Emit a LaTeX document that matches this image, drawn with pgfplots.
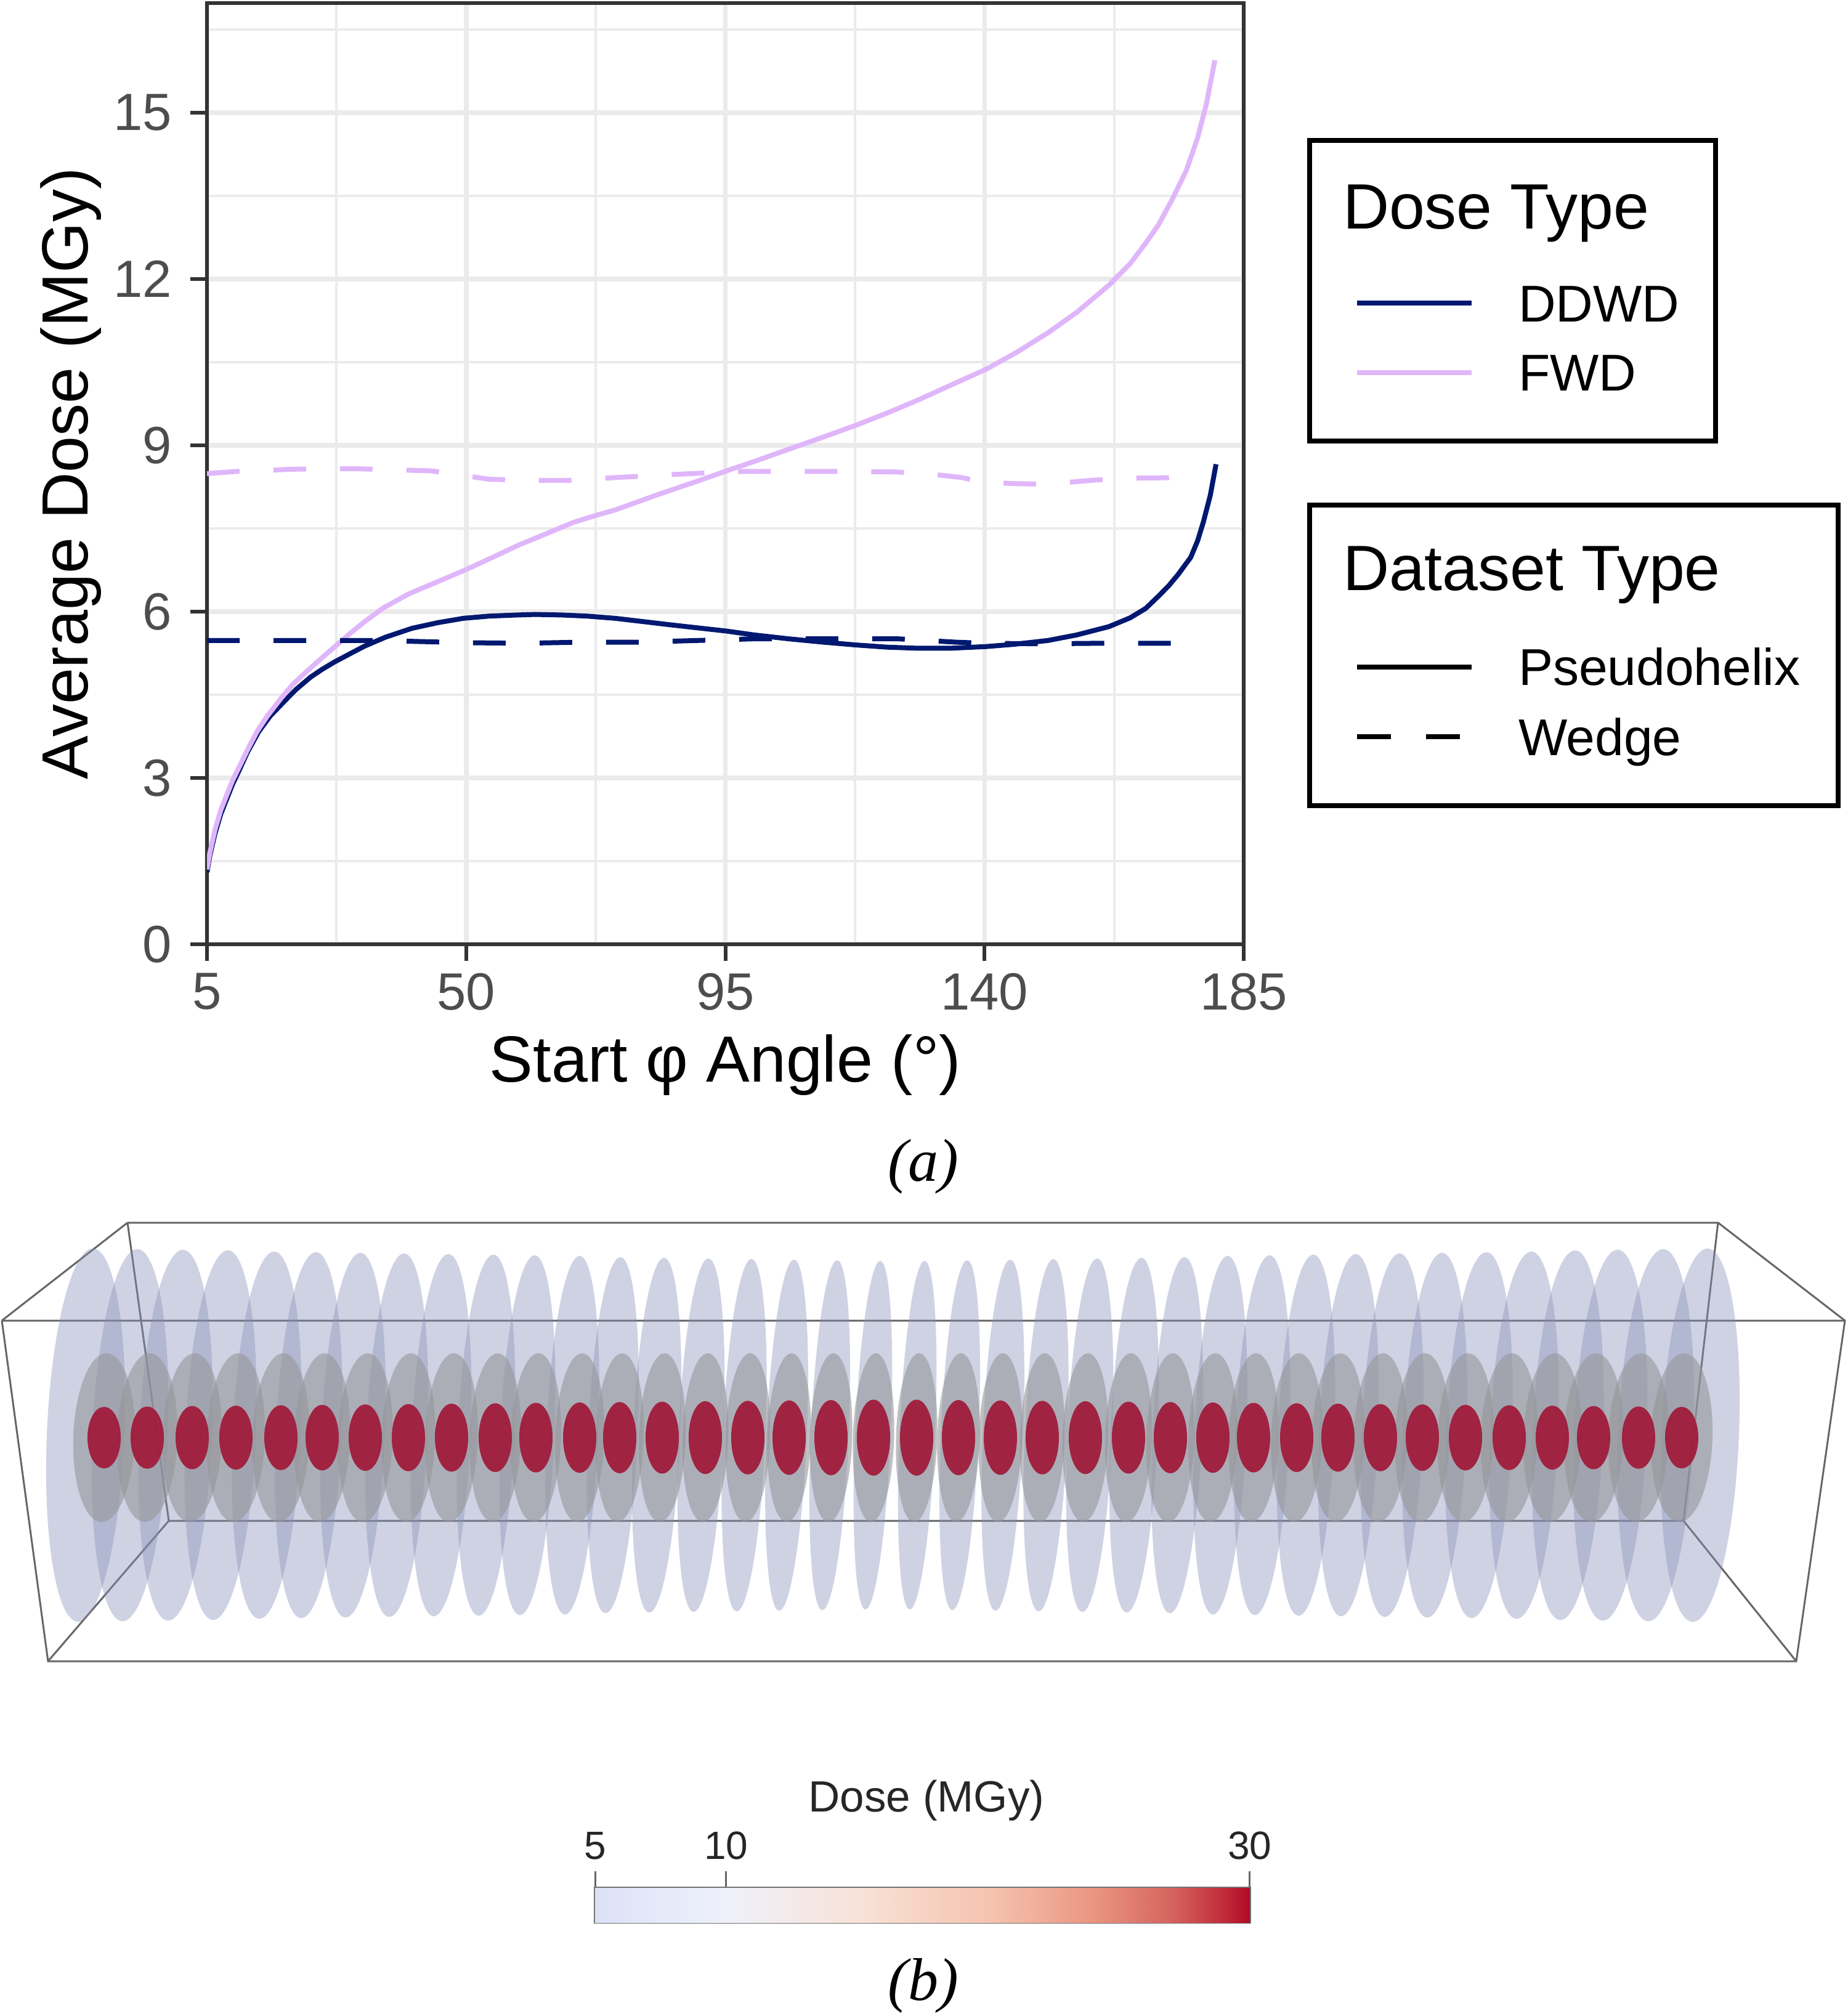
\documentclass[border=0pt]{standalone}
\usepackage{fontspec}
\setmainfont{Liberation Sans}
\newfontfamily\timesfont{Liberation Serif}
\usepackage{pgfplots}
\usepackage{pgfplotstable}
\pgfplotsset{compat=1.18}

\definecolor{ddwd}{RGB}{0,24,112}
\definecolor{fwd}{RGB}{224,182,250}
\definecolor{gridc}{RGB}{235,235,235}
\definecolor{framec}{RGB}{51,51,51}
\definecolor{tickl}{RGB}{77,77,77}
\definecolor{lavc}{RGB}{135,142,184}
\definecolor{grayc}{RGB}{150,150,154}
\definecolor{redc}{RGB}{160,28,60}

\pgfdeclareplotmark{disk}{%
  \pgfpathellipse{\pgfpointorigin}{\pgfpoint{\mw*1pt}{0pt}}{\pgfpoint{\msk*1pt}{\mh*1pt}}%
  \pgfusepathqfill}

\pgfplotstableread{
x lx lw lh gw rh
169 139 6.30 30.3 5.00 5.00
239 211 6.11 30.2 4.91 5.06
312 285 5.92 30.1 4.82 5.13
383 358 5.73 30.0 4.72 5.19
456 433 5.54 29.8 4.63 5.26
523 501 5.36 29.7 4.54 5.32
593 573 5.17 29.6 4.45 5.39
663 644 4.98 29.5 4.36 5.45
733 716 4.79 29.4 4.27 5.52
804 789 4.60 29.3 4.17 5.58
870 856 4.41 29.2 4.08 5.65
941 929 4.22 29.1 3.99 5.71
1006 995 4.03 28.9 3.90 5.78
1075 1066 3.84 28.8 3.80 5.84
1145 1138 3.65 28.7 3.71 5.91
1214 1208 3.46 28.6 3.62 5.97
1281 1277 3.27 28.5 3.53 6.04
1349 1347 3.08 28.4 3.44 6.10
1418 1417 2.89 28.3 3.35 6.17
1488 1489 2.89 28.3 3.35 6.17
1556 1558 3.08 28.4 3.44 6.10
1624 1628 3.27 28.5 3.53 6.04
1692 1698 3.46 28.6 3.62 5.97
1762 1769 3.65 28.7 3.71 5.91
1832 1841 3.84 28.8 3.80 5.84
1900 1911 4.03 28.9 3.90 5.78
1969 1981 4.22 29.1 3.99 5.71
2035 2049 4.41 29.2 4.08 5.65
2105 2120 4.60 29.3 4.17 5.58
2172 2189 4.79 29.4 4.27 5.52
2241 2260 4.98 29.5 4.36 5.45
2309 2329 5.17 29.6 4.45 5.39
2379 2401 5.36 29.7 4.54 5.32
2450 2474 5.54 29.8 4.63 5.26
2520 2545 5.73 30.0 4.72 5.19
2587 2614 5.92 30.1 4.82 5.13
2660 2688 6.11 30.2 4.91 5.06
2730 2760 6.30 30.3 5.00 5.00
}\disks

\pgfplotstableread{
a v
5 1.35
5.5 1.65
6.4 2.07
7.4 2.42
8.5 2.71
9.5 2.97
10.6 3.20
12 3.50
13.7 3.84
15.5 4.12
17.8 4.43
20 4.70
22.5 4.94
25 5.17
27.1 5.36
30 5.62
32.5 5.83
35.5 6.06
40 6.32
44.8 6.53
50 6.76
55 7.00
59.3 7.21
64 7.41
68.6 7.61
72 7.72
76 7.84
80 7.99
83.5 8.12
90 8.35
95.2 8.54
100 8.71
106 8.93
112 9.15
117.6 9.36
123 9.58
128.5 9.82
134 10.08
140.2 10.37
145.6 10.68
151 11.03
156 11.40
161.6 11.89
165.3 12.28
168 12.65
170.2 12.98
172.5 13.42
175 13.95
177 14.55
178.5 15.15
180 15.95
}\fwdpseudo

\pgfplotstableread{
a v
5 1.30
5.5 1.60
6.4 2.00
7.4 2.35
8.5 2.64
9.5 2.90
10.6 3.14
12 3.46
14 3.84
16 4.12
18.4 4.38
20.5 4.60
23 4.82
25 4.96
27.1 5.09
30 5.25
32.4 5.38
36 5.54
40.6 5.70
45 5.80
49.5 5.88
54 5.92
58.8 5.94
62 5.95
66.6 5.94
71 5.92
75.9 5.88
80 5.83
85.7 5.76
90 5.71
95.2 5.65
100 5.58
106 5.51
112 5.45
117.6 5.40
123 5.36
128.5 5.34
134 5.34
140.2 5.37
145 5.41
151 5.48
156 5.58
161.6 5.73
165.3 5.89
168 6.06
170.2 6.28
172 6.47
173.6 6.67
175.8 6.98
177 7.28
178 7.62
179.2 8.10
180.2 8.66
}\ddwdpseudo

\pgfplotstableread{
a v
5 8.49
10 8.53
20 8.57
30.5 8.58
44 8.54
54 8.39
60 8.37
68 8.37
76 8.42
85 8.47
91 8.50
98 8.53
108 8.53
117 8.53
124.8 8.52
130 8.49
136 8.42
139.7 8.34
145 8.31
151 8.30
158.5 8.37
166 8.41
175.4 8.42
}\fwdwedge

\pgfplotstableread{
a v
5 5.48
20 5.48
35 5.48
50 5.44
60 5.43
70 5.45
80 5.45
90 5.48
100 5.51
117 5.51
125 5.51
135 5.45
140 5.43
150 5.42
160 5.43
175.4 5.43
}\ddwdwedge

\begin{document}
\begin{tikzpicture}
\path[use as bounding box] (0pt,0pt) rectangle (300pt,327.3pt);

% ---------- (b) rendering ----------
\begin{axis}[at={(0pt,0pt)}, anchor=south west, scale only axis,
  width=300pt, height=327.3pt,
  xmin=0, xmax=3000, ymin=0, ymax=3273, y dir=reverse,
  hide axis, clip=false,
  point meta min=0, point meta max=3000]
\addplot[scatter, only marks, mark=disk, point meta=\thisrow{x},
  scatter/use mapped color={draw=none, fill=lavc},
  mark options={fill opacity=0.40},
  visualization depends on={\thisrow{lw}\as\mw},
  visualization depends on={\thisrow{lh}\as\mh},
  visualization depends on={value 1.2\as\msk}]
  table[x=lx, y expr=2330] {\disks};
\addplot[scatter, only marks, mark=disk, point meta=\thisrow{x},
  scatter/use mapped color={draw=none, fill=grayc},
  mark options={fill opacity=0.6},
  visualization depends on={\thisrow{gw}\as\mw},
  visualization depends on={value 13.7\as\mh},
  visualization depends on={value 0.4\as\msk}]
  table[x=x, y expr=2334] {\disks};
\addplot[scatter, only marks, mark=disk, point meta=\thisrow{x},
  scatter/use mapped color={draw=none, fill=redc},
  mark options={fill opacity=0.95},
  visualization depends on={value 2.7\as\mw},
  visualization depends on={\thisrow{rh}\as\mh},
  visualization depends on={value 0\as\msk}]
  table[x=x, y expr=2334] {\disks};
\addplot[no marks, draw=black!60, line width=0.3pt] coordinates {(207,1985) (2789,1985) (2733,2469) (274,2469) (207,1985)};
\addplot[no marks, draw=black!60, line width=0.3pt] coordinates {(3,2144) (2995,2144) (2916,2697) (78,2697) (3,2144)};
\addplot[no marks, draw=black!60, line width=0.3pt] coordinates {(3,2144) (207,1985)};
\addplot[no marks, draw=black!60, line width=0.3pt] coordinates {(2995,2144) (2789,1985)};
\addplot[no marks, draw=black!60, line width=0.3pt] coordinates {(78,2697) (274,2469)};
\addplot[no marks, draw=black!60, line width=0.3pt] coordinates {(2916,2697) (2733,2469)};
\end{axis}

% ---------- colour bar ----------
\begin{axis}[at={(96.6pt,15.2pt)}, anchor=south west, scale only axis,
  width=106.3pt, height=5.6pt,
  xmin=5, xmax=30, ymin=0, ymax=1,
  axis line style={black!55, line width=0.4pt},
  xtick={5,10,30}, ytick=\empty,
  xtick pos=right, xticklabel pos=right,
  tick align=outside, major tick length=2.7pt,
  tick style={black!60, line width=0.3pt},
  xticklabel style={font=\fontsize{6.4}{7.5}\selectfont, text=black!85, inner sep=0.6pt, yshift=1.1pt},
  /pgf/number format/assume math mode=true,
  colormap={dosemap}{rgb255(0cm)=(220,225,247) rgb255(5cm)=(238,241,250) rgb255(10cm)=(248,226,216) rgb255(15cm)=(245,196,176) rgb255(19cm)=(234,150,130) rgb255(22cm)=(214,100,95) rgb255(24cm)=(192,45,58) rgb255(25cm)=(178,8,38)},
  point meta min=5, point meta max=30]
\addplot[surf, shader=interp, point meta=x, mesh/cols=6] coordinates {
(5,0) (10,0) (15,0) (20,0) (25,0) (30,0)
(5,1) (10,1) (15,1) (20,1) (25,1) (30,1)};
\end{axis}
\node[font=\fontsize{7.1}{8}\selectfont, text=black!85] at (150.4pt,35.0pt) {Dose (MGy)};

% ---------- (a) chart ----------
\begin{axis}[at={(33.6pt,174.0pt)}, anchor=south west, scale only axis,
  width=168.3pt, height=152.8pt,
  xmin=5, xmax=185, ymin=0, ymax=16.98,
  xtick={5,50,95,140,185}, ytick={0,3,6,9,12,15},
  minor xtick={27.5,72.5,117.5,162.5},
  minor ytick={1.5,4.5,7.5,10.5,13.5,16.5},
  grid=both,
  major grid style={gridc, line width=0.75pt},
  minor grid style={gridc, line width=0.42pt},
  axis line style={framec, line width=0.55pt},
  tick align=outside, major tick length=2.7pt, minor tick length=0pt,
  tick style={framec, line width=0.6pt},
  xtick pos=left, ytick pos=left,
  ticklabel style={font=\fontsize{8.5}{10}\selectfont, text=tickl},
  yticklabel style={inner sep=0pt, xshift=-2.8pt},
  xticklabel style={inner sep=0pt, yshift=-1.8pt},
  /pgf/number format/assume math mode=true,
  xlabel={Start φ Angle (°)}, ylabel={Average Dose (MGy)},
  label style={font=\fontsize{10.6}{12}\selectfont},
  xlabel style={at={(axis description cs:0.5,-0.1283)}, anchor=center},
  ylabel style={at={(axis description cs:-0.1313,0.5)}, anchor=center}]
\addplot[ddwd, line width=0.8pt, no marks] table[x=a, y=v] {\ddwdpseudo};
\addplot[fwd, line width=0.8pt, no marks] table[x=a, y=v] {\fwdpseudo};
\addplot[fwd, line width=0.8pt, no marks, dash pattern=on 5.3pt off 5.5pt] table[x=a, y=v] {\fwdwedge};
\addplot[ddwd, line width=0.8pt, no marks, dash pattern=on 5.3pt off 5.5pt] table[x=a, y=v] {\ddwdwedge};
\end{axis}

% ---------- legends ----------
\draw[line width=0.8pt] (212.6pt,304.5pt) rectangle (278.5pt,255.7pt);
\node[anchor=base west, inner sep=0pt, font=\fontsize{10.4}{12}\selectfont] at (217.8pt,290.1pt) {Dose Type};
\draw[ddwd, line width=0.85pt] (220.3pt,278.1pt) -- (238.9pt,278.1pt);
\draw[fwd, line width=0.85pt] (220.3pt,266.8pt) -- (238.9pt,266.8pt);
\node[anchor=base west, inner sep=0pt, font=\fontsize{8.4}{10}\selectfont] at (246.3pt,275.0pt) {DDWD};
\node[anchor=base west, inner sep=0pt, font=\fontsize{8.4}{10}\selectfont] at (246.3pt,263.8pt) {FWD};

\draw[line width=0.8pt] (212.6pt,245.3pt) rectangle (298.4pt,196.5pt);
\node[anchor=base west, inner sep=0pt, font=\fontsize{10.4}{12}\selectfont] at (217.8pt,231.4pt) {Dataset Type};
\draw[black, line width=0.85pt] (220.3pt,219.0pt) -- (238.9pt,219.0pt);
\draw[black, line width=0.85pt, dash pattern=on 5.5pt off 5.7pt] (220.3pt,207.7pt) -- (238.9pt,207.7pt);
\node[anchor=base west, inner sep=0pt, font=\fontsize{8.4}{10}\selectfont] at (246.3pt,216.0pt) {Pseudohelix};
\node[anchor=base west, inner sep=0pt, font=\fontsize{8.4}{10}\selectfont] at (246.3pt,204.6pt) {Wedge};

% ---------- panel labels ----------
\node[font=\timesfont\itshape\fontsize{9.8}{11}\selectfont] at (149.9pt,137.9pt) {(a)};
\node[font=\timesfont\itshape\fontsize{9.8}{11}\selectfont] at (149.9pt,4.9pt) {(b)};
\end{tikzpicture}
\end{document}
